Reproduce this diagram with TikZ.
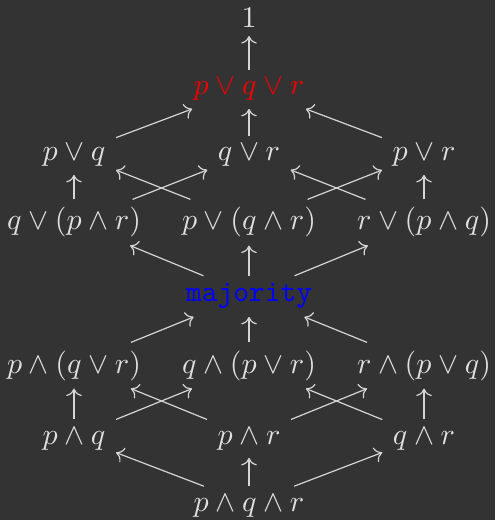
\documentclass[tikz,border=0pt]{standalone}
\usetikzlibrary{cd}
\definecolor{bg}{HTML}{333333}
\definecolor{fg}{HTML}{E0E0E0}
\definecolor{lred}{HTML}{F00000}
\definecolor{lblue}{HTML}{0000FF}
\begin{document}
\begin{tikzpicture}[x=0.33333pt, y=-0.33333pt,
  lbl/.style={shape=asymmetrical rectangle, anchor=base, text=fg, inner xsep=0.3333em, inner ysep=2.5pt},
  edge/.style={draw=fg!95!black, line width=0.4pt, -{cm to}}]
\fill[bg] (0,0) rectangle (495,520);
\useasboundingbox (0,0) rectangle (495,520);
% nodes
\node[lbl] (one) at (249,28) {$1$};
\node[lbl, text=lred] (pqr) at (249,95) {$p\vee q\vee r$};
\node[lbl] (pq) at (74,161) {$p\vee q$};
\node[lbl] (qr) at (249,161) {$q\vee r$};
\node[lbl] (pr) at (424,161) {$p\vee r$};
\node[lbl] (qpr) at (74,230) {$q\vee(p\wedge r)$};
\node[lbl] (pqrb) at (249,230) {$p\vee(q\wedge r)$};
\node[lbl] (rpq) at (424,230) {$r\vee(p\wedge q)$};
\node[lbl, text=lblue] (maj) at (249,302) {\ttfamily majority};
\node[lbl] (aqr) at (74,373) {$p\wedge(q\vee r)$};
\node[lbl] (apr) at (249,373) {$q\wedge(p\vee r)$};
\node[lbl] (apq) at (424,373) {$r\wedge(p\vee q)$};
\node[lbl] (xpq) at (74,444) {$p\wedge q$};
\node[lbl] (xpr) at (249,444) {$p\wedge r$};
\node[lbl] (xqr) at (424,444) {$q\wedge r$};
\node[lbl] (bot) at (249,511) {$p\wedge q\wedge r$};
% edges
\draw[edge] (pqr) -- (one);
\draw[edge] (pq) -- (pqr);
\draw[edge] (qr) -- (pqr);
\draw[edge] (pr) -- (pqr);
\draw[edge] (qpr) -- (pq);
\draw[edge] (qpr) -- (qr);
\draw[edge] (pqrb) -- (pq);
\draw[edge] (pqrb) -- (pr);
\draw[edge] (rpq) -- (qr);
\draw[edge] (rpq) -- (pr);
\draw[edge] (maj) -- (qpr);
\draw[edge] (maj) -- (pqrb);
\draw[edge] (maj) -- (rpq);
\draw[edge] (aqr) -- (maj);
\draw[edge] (apr) -- (maj);
\draw[edge] (apq) -- (maj);
\draw[edge] (xpq) -- (aqr);
\draw[edge] (xpq) -- (apr);
\draw[edge] (xpr) -- (aqr);
\draw[edge] (xpr) -- (apq);
\draw[edge] (xqr) -- (apr);
\draw[edge] (xqr) -- (apq);
\draw[edge] (bot) -- (xpq);
\draw[edge] (bot) -- (xpr);
\draw[edge] (bot) -- (xqr);
\end{tikzpicture}
\end{document}
